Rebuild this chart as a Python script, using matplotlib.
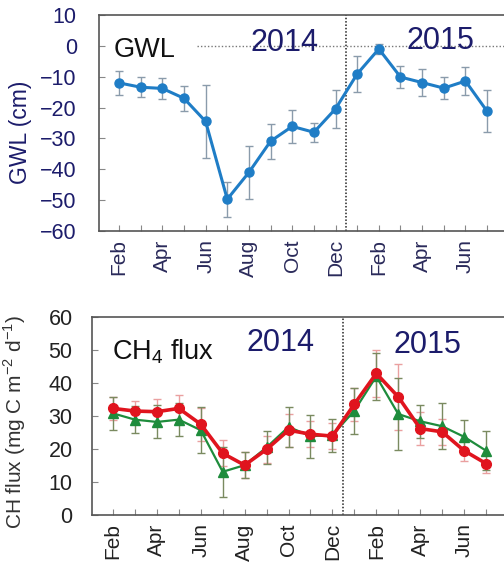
import matplotlib
matplotlib.use("Agg")
import matplotlib.pyplot as plt
import numpy as np

plt.rcParams['font.family'] = ['Liberation Sans', 'DejaVu Sans']
plt.rcParams['mathtext.fontset'] = 'custom'
plt.rcParams['mathtext.rm'] = 'Liberation Sans'

# Monthly sequence Feb 2014 – Jul 2015
months = ["Feb", "Mar", "Apr", "May", "Jun", "Jul", "Aug", "Sep", "Oct", "Nov", "Dec",
          "Jan", "Feb", "Mar", "Apr", "May", "Jun", "Jul"]

# Groundwater level (cm) and its standard deviation
gwl = [-12, -13.4, -13.8, -17, -24.5, -49.7, -41, -30.9, -26.1, -28, -20.4,
       -9.1, -1.0, -10.1, -11.9, -13.7, -11.4, -21.2]
gwl_err = [4, 3.3, 3.4, 4, 11.8, 5.7, 8.5, 5.7, 5.3, 3, 6.2,
           5.9, 1.5, 3.6, 4.3, 3.6, 4.5, 6.8]

# CH4 flux (mg C m-2 d-1): two series with standard deviations
flux_red = [32.3, 31.5, 31.3, 32.3, 27.5, 18.7, 15.1, 19.9, 25.7, 24.5, 23.9,
            33.6, 42.9, 35.8, 26.2, 25.2, 19.5, 15.6]
flux_red_err = [3.5, 3, 4, 4, 5, 4, 4, 4, 5, 4, 4,
                5, 7, 10, 5, 4, 3, 3]
flux_green = [30.8, 28.9, 28.2, 28.9, 25.7, 13.1, 15.1, 20.5, 26.7, 23.9, 24.2,
              31.6, 42.0, 30.6, 28.4, 26.9, 23.7, 19.5]
flux_green_err = [5, 4, 5, 5, 7, 7.5, 4, 5, 6, 6.5, 5,
                  7, 7, 11, 5, 7, 5, 6]

x = np.arange(len(months))
navy = '#1c1c6b'
spine_col = '#555555'

fig = plt.figure(figsize=(5.04, 5.64), dpi=100)

ax1 = fig.add_axes([99 / 504, 1 - 231 / 564, 405 / 504, 216 / 564])
ax2 = fig.add_axes([92 / 504, 1 - 515 / 564, 412 / 504, 198 / 564])


def style_axes(ax, label_col, month_col, ypad):
    for side in ('left', 'bottom', 'top'):
        ax.spines[side].set_color(spine_col)
        ax.spines[side].set_linewidth(1.2)
    ax.spines['right'].set_visible(False)
    ax.tick_params(direction='in', length=4, width=0.8, color='#888888')
    ax.tick_params(axis='y', labelsize=15.5, labelcolor=label_col, pad=ypad)
    ax.tick_params(axis='x', labelsize=15, labelcolor=month_col, pad=6)
    ax.set_xticks(x)
    ax.set_xticklabels([m if i % 2 == 0 else '' for i, m in enumerate(months)],
                       rotation=90)


# --- Groundwater level panel ---
ax1.errorbar(x, gwl, yerr=gwl_err, fmt='none', ecolor='#8a9bab',
             elinewidth=1.0, capsize=3, capthick=1.0, zorder=2)
ax1.plot(x, gwl, '-o', color='#1f7dc6', lw=2.2, ms=6.5, zorder=3)
ax1.set_xlim(-0.924, 17.78)
ax1.set_ylim(-60, 10)
ax1.set_yticks(range(-60, 11, 10))
ax1.axvline(10.5, color='#222222', lw=1.1, ls=(0, (1, 1.2)), zorder=1)
ax1.plot([3.6, 17.78], [0, 0], color='#777777', lw=1.0, ls=(0, (1, 1.5)), zorder=1)
style_axes(ax1, navy, '#2a2a5a', 16)
ax1.set_ylabel('GWL (cm)', fontsize=16.5, color=navy)
ax1.yaxis.set_label_coords(-0.165, 0.458)
ax1.text(0.035, 0.806, 'GWL', transform=ax1.transAxes, fontsize=19.5,
         color='#111111', va='baseline')
ax1.text(0.373, 0.835, '2014', transform=ax1.transAxes, fontsize=22,
         color=navy, va='baseline')
ax1.text(0.760, 0.841, '2015', transform=ax1.transAxes, fontsize=22,
         color=navy, va='baseline')

# --- CH4 flux panel ---
ax2.errorbar(x, flux_red, yerr=flux_red_err, fmt='none', ecolor='#eaa0a0',
             elinewidth=1.0, capsize=3, capthick=1.0, zorder=2)
ax2.errorbar(x, flux_green, yerr=flux_green_err, fmt='none', ecolor='#7a8a60',
             elinewidth=1.0, capsize=3, capthick=1.0, zorder=2)
ax2.plot(x, flux_green, '-^', color='#1e8c3c', lw=1.6, ms=6.5, zorder=3)
ax2.plot(x, flux_red, '-o', color='#e0141e', lw=2.6, ms=7, zorder=4)
ax2.set_xlim(-0.957, 17.82)
ax2.set_ylim(0, 60)
ax2.set_yticks(range(0, 61, 10))
ax2.axvline(10.5, color='#222222', lw=1.1, ls=(0, (1, 1.2)), zorder=1)
style_axes(ax2, '#222222', '#222222', 14)
ax2.set_ylabel('CH flux (mg C m$^{\\mathrm{-2}}$ d$^{\\mathrm{-1}}$)', fontsize=15,
               color='#333333')
ax2.yaxis.set_label_coords(-0.155, 0.47)
ax2.text(0.0485, 0.783, 'CH$_4$ flux', transform=ax2.transAxes, fontsize=19.5,
         color='#111111', va='baseline')
ax2.text(0.376, 0.830, '2014', transform=ax2.transAxes, fontsize=22,
         color=navy, va='baseline')
ax2.text(0.731, 0.820, '2015', transform=ax2.transAxes, fontsize=22,
         color=navy, va='baseline')

fig.savefig('out.png', dpi=100)
